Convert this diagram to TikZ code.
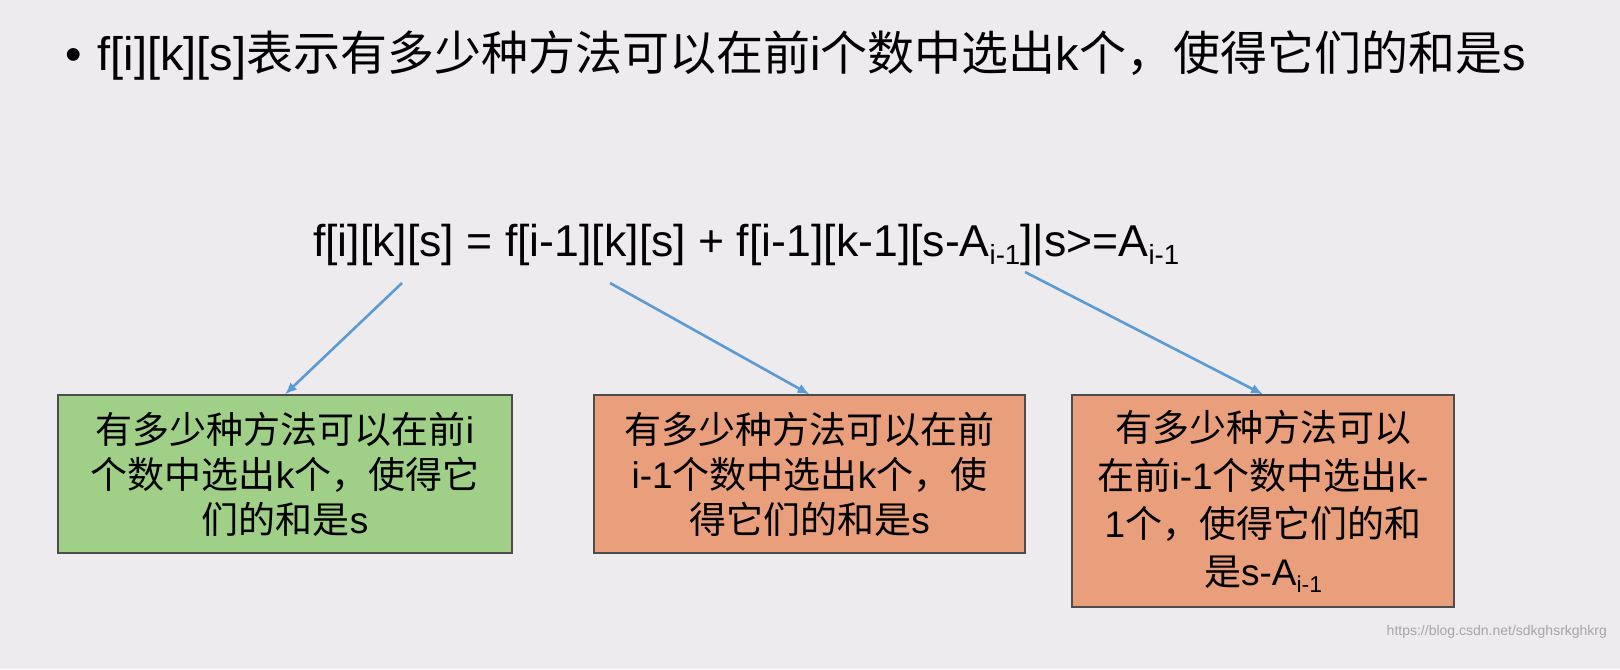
\documentclass[tikz,border=0pt]{standalone}
\usepackage{fontspec}
\setmainfont{Liberation Sans}
\newfontfamily\cjk{Noto Sans CJK SC}
\newcommand{\zh}[1]{{\cjk #1}}
\newcommand{\sbs}[1]{\raisebox{-0.35ex}{\fontsize{0.62em}{0.7em}\selectfont #1}}
\definecolor{bg}{HTML}{EDEBEE}
\definecolor{gbox}{HTML}{A0CF88}
\definecolor{obox}{HTML}{E99E7C}
\definecolor{arr}{HTML}{5B9BD5}
\usetikzlibrary{arrows.meta}
\begin{document}
\begin{tikzpicture}[x=0.5pt,y=-0.5pt,
  box/.style={draw=black!70,line width=0.6pt,inner sep=0pt,align=center,font=\fontsize{18.5}{22.5}\selectfont},
  conn/.style={draw=arr,line width=1.3pt,-{Latex[length=6pt,width=5pt]}}]
\fill[bg] (0,0) rectangle (1620,669);
\useasboundingbox (0,0) rectangle (1620,669);
\node[anchor=west,font=\fontsize{23.5}{26}\selectfont] (title) at (58,55) {\textbullet\hspace{8pt}f[i][k][s]\zh{表示有多少种方法可以在前}i\zh{个数中选出}k\zh{个，使得它们的和是}s};
\node[anchor=west,font=\fontsize{22.3}{24}\selectfont] (eq) at (306,245) {f[i][k][s] = f[i-1][k][s] + f[i-1][k-1][s-A\sbs{i-1}]|s>=A\sbs{i-1}};
\node[box,fill=gbox,minimum width=227pt,minimum height=79pt] (b1) at (285,474) {\zh{有多少种方法可以在前}i\\\zh{个数中选出}k\zh{个，使得它}\\\zh{们的和是}s};
\node[box,fill=obox,minimum width=215.5pt,minimum height=79pt] (b2) at (809.5,474) {\zh{有多少种方法可以在前}\\i-1\zh{个数中选出}k\zh{个，使}\\\zh{得它们的和是}s};
\node[box,fill=obox,minimum width=191pt,minimum height=106pt,font=\fontsize{18.5}{24}\selectfont] (b3) at (1263,501) {\zh{有多少种方法可以}\\\zh{在前}i-1\zh{个数中选出}k-\\1\zh{个，使得它们的和}\\\zh{是}s-A\sbs{i-1}};
\coordinate (s1) at (402,283);
\coordinate (s2) at (610,283);
\coordinate (s3) at (1025,272);
\draw[conn] (s1) -- (b1.north);
\draw[conn] (s2) -- (b2.north);
\draw[conn] (s3) -- (b3.north);
\node[anchor=east,text=black!35,font=\fontsize{7}{8}\selectfont] (wm) at (1614,632) {https://blog.csdn.net/sdkghsrkghkrg};
\end{tikzpicture}
\end{document}
